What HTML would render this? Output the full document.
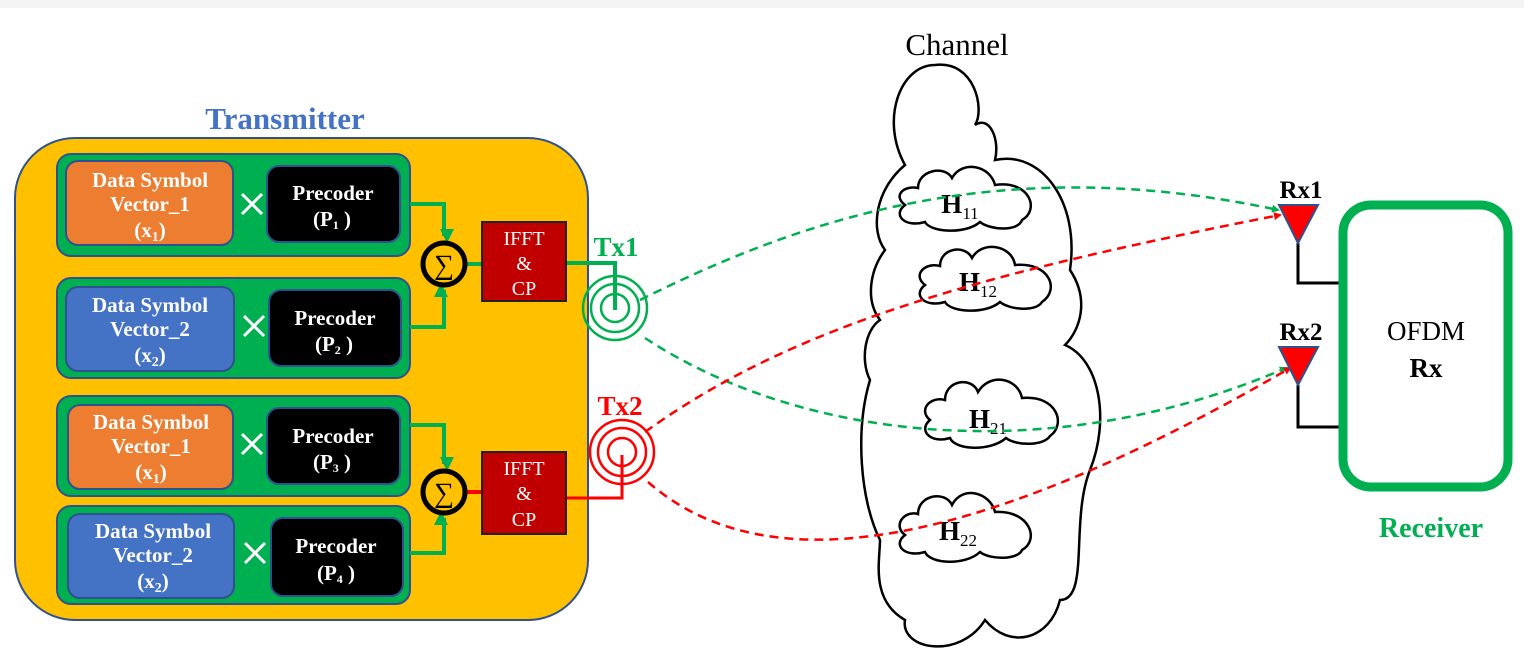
<!DOCTYPE html>
<html><head><style>
html,body{margin:0;padding:0;background:#fff;}
svg{display:block;}
text{font-family:"Liberation Serif",serif;}
</style></head><body>
<svg width="1524" height="661" viewBox="0 0 1524 661" xmlns="http://www.w3.org/2000/svg">
<defs>
<marker id="ag" markerWidth="8" markerHeight="8" refX="6" refY="4" orient="auto" markerUnits="userSpaceOnUse"><path d="M0,0 L8,4 L0,8 z" fill="#00B050"/></marker>
<marker id="ar" markerWidth="8" markerHeight="8" refX="6" refY="4" orient="auto" markerUnits="userSpaceOnUse"><path d="M0,0 L8,4 L0,8 z" fill="#FF0000"/></marker>
<marker id="gk" markerWidth="14" markerHeight="14" refX="7" refY="10" orient="auto" markerUnits="userSpaceOnUse"><path d="M0,0 L14,7 L0,14 z" fill="#00B050"/></marker>
</defs>
<rect x="0" y="0" width="1524" height="8" fill="#f4f4f4"/>
<text x="285" y="129" font-size="31" font-weight="bold" fill="#4472C4" text-anchor="middle">Transmitter</text>
<rect x="15" y="138" width="573" height="482" rx="60" fill="#FFC000" stroke="#2F528F" stroke-width="2"/>

<g stroke="#2F528F" stroke-width="2">
<rect x="57" y="154" width="353" height="102" rx="14" fill="#00B050"/>
<rect x="57" y="278" width="353" height="100" rx="14" fill="#00B050"/>
<rect x="57" y="396" width="353" height="100" rx="14" fill="#00B050"/>
<rect x="57" y="506" width="353" height="98" rx="14" fill="#00B050"/>
<rect x="66" y="161" width="167" height="84" rx="12" fill="#ED7D31"/>
<rect x="66" y="287" width="168" height="84" rx="12" fill="#4472C4"/>
<rect x="68" y="405" width="165" height="84" rx="12" fill="#ED7D31"/>
<rect x="68" y="514" width="166" height="84" rx="12" fill="#4472C4"/>
<rect x="267" y="166" width="133" height="76" rx="12" fill="#000"/>
<rect x="269" y="290" width="132" height="76" rx="12" fill="#000"/>
<rect x="267" y="408" width="133" height="76" rx="12" fill="#000"/>
<rect x="271" y="518" width="132" height="78" rx="12" fill="#000"/>
</g>
<g fill="#fff" font-weight="bold" font-size="21" text-anchor="middle">
<text x="150" y="187">Data Symbol</text><text x="150" y="211">Vector_1</text><text x="150" y="237">(x<tspan font-size="14" dy="4">1</tspan><tspan dy="-4">)</tspan></text>
<text x="150" y="312">Data Symbol</text><text x="150" y="336">Vector_2</text><text x="150" y="362">(x<tspan font-size="14" dy="4">2</tspan><tspan dy="-4">)</tspan></text>
<text x="151" y="429">Data Symbol</text><text x="151" y="453">Vector_1</text><text x="151" y="479">(x<tspan font-size="14" dy="4">1</tspan><tspan dy="-4">)</tspan></text>
<text x="153" y="538">Data Symbol</text><text x="153" y="562">Vector_2</text><text x="153" y="588">(x<tspan font-size="14" dy="4">2</tspan><tspan dy="-4">)</tspan></text>
<text x="333" y="200">Precoder</text><text x="332" y="226">(P<tspan font-size="12" dy="3">1</tspan><tspan dy="-3"> )</tspan></text>
<text x="335" y="325">Precoder</text><text x="334" y="351">(P<tspan font-size="12" dy="3">2</tspan><tspan dy="-3"> )</tspan></text>
<text x="333" y="443">Precoder</text><text x="332" y="469">(P<tspan font-size="12" dy="3">3</tspan><tspan dy="-3"> )</tspan></text>
<text x="336" y="553">Precoder</text><text x="336" y="580">(P<tspan font-size="12" dy="3">4</tspan><tspan dy="-3"> )</tspan></text>
</g>
<g stroke="#fff" stroke-width="3">
<path d="M242,194 L262,214 M262,194 L242,214"/>
<path d="M244,316 L264,336 M264,316 L244,336"/>
<path d="M242,434 L262,454 M262,434 L242,454"/>
<path d="M245,543 L265,563 M265,543 L245,563"/>
</g>
<g stroke="#00B050" stroke-width="4" fill="none">
<path d="M410,204 L444,204 L444,236" marker-end="url(#gk)"/>
<path d="M410,327 L444,327 L444,290" marker-end="url(#gk)"/>
<path d="M410,425 L444,425 L444,464" marker-end="url(#gk)"/>
<path d="M410,553 L444,553 L444,518" marker-end="url(#gk)"/>
<path d="M465,264 L482,264"/>
<path d="M566,263 L615,263 L615,310"/>
</g>
<path d="M465,492 L482,492" stroke="#FF0000" stroke-width="4"/>
<path d="M566,498 L622,498 L622,455" stroke="#FF0000" stroke-width="3" fill="none"/>
<circle cx="444" cy="264" r="21" fill="#FFC000" stroke="#000" stroke-width="5"/>
<circle cx="444" cy="492" r="21" fill="#FFC000" stroke="#000" stroke-width="5"/>
<text x="444" y="274" font-size="28" text-anchor="middle">∑</text>
<text x="444" y="502" font-size="28" text-anchor="middle">∑</text>
<rect x="482" y="222" width="84" height="79" fill="#C00000" stroke="#222" stroke-width="2"/>
<rect x="482" y="452" width="84" height="82" fill="#C00000" stroke="#222" stroke-width="2"/>
<g fill="#fff" font-size="20" text-anchor="middle">
<text x="524" y="245">IFFT</text><text x="524" y="270">&amp;</text><text x="524" y="295">CP</text>
<text x="524" y="475">IFFT</text><text x="524" y="500">&amp;</text><text x="524" y="526">CP</text>
</g>
<text x="616" y="256" font-size="27" font-weight="bold" fill="#00B050" text-anchor="middle">Tx1</text>
<g stroke="#00B050" stroke-width="2.5" fill="none"><circle cx="615" cy="308" r="14"/><circle cx="615" cy="308" r="24"/><circle cx="615" cy="308" r="32"/></g>
<text x="620" y="415" font-size="27" font-weight="bold" fill="#FF0000" text-anchor="middle">Tx2</text>
<g stroke="#FF0000" stroke-width="2.5" fill="none"><circle cx="622" cy="452" r="14"/><circle cx="622" cy="452" r="24"/><circle cx="622" cy="452" r="32"/></g>

<text x="957" y="55" font-size="31" text-anchor="middle">Channel</text>
<path d="M905,165 C880,120 900,65 935,65 C975,60 985,110 975,125 C990,115 1000,140 995,160 C1040,150 1080,200 1070,270 C1090,300 1080,330 1065,345 C1100,360 1110,420 1090,470 C1070,520 1090,600 1060,600 C1050,640 1010,650 985,620 C960,660 900,650 905,620 C870,600 880,560 880,540 C860,500 855,430 870,380 C860,360 865,330 880,320 C865,300 870,270 885,250 C870,230 875,190 905,165 Z" fill="#fff" stroke="#000" stroke-width="2.5"/>
<g fill="#fff" stroke="#000" stroke-width="2.5">
<path d="M905,205 C892,195 905,185 918,188 C918,170 945,165 952,178 C962,160 990,165 995,185 C1030,180 1040,210 1022,220 C1018,232 990,230 980,222 C965,235 930,232 925,222 C905,228 892,215 905,205 Z"/>
<path d="M925,285 C912,275 925,262 940,266 C940,248 965,244 972,258 C982,240 1012,245 1015,265 C1050,262 1060,290 1042,302 C1036,312 1010,310 1000,302 C985,315 950,312 945,302 C925,308 912,295 925,285 Z"/>
<path d="M930,420 C918,410 930,396 945,400 C945,380 972,376 978,392 C990,372 1018,378 1022,398 C1058,395 1066,425 1050,436 C1044,446 1016,446 1006,438 C990,452 955,450 950,438 C930,444 918,430 930,420 Z"/>
<path d="M905,535 C892,525 905,510 918,514 C918,495 945,490 952,505 C962,485 990,492 995,512 C1030,510 1040,540 1022,550 C1018,560 990,560 980,552 C965,566 930,564 925,552 C905,558 892,545 905,535 Z"/>
</g>
<g font-size="27" font-weight="bold" text-anchor="middle">
<text x="960" y="213">H<tspan font-size="17" font-weight="normal" dy="6">11</tspan></text>
<text x="978" y="291">H<tspan font-size="17" font-weight="normal" dy="6">12</tspan></text>
<text x="988" y="428">H<tspan font-size="17" font-weight="normal" dy="6">21</tspan></text>
<text x="958" y="540">H<tspan font-size="17" font-weight="normal" dy="6">22</tspan></text>
</g>

<g fill="none" stroke-width="2.5" stroke-dasharray="9,6">
<path d="M640,300 C800,220 1000,150 1278,210" stroke="#00B050" marker-end="url(#ag)"/>
<path d="M645,338 C800,440 1050,470 1286,368" stroke="#00B050" marker-end="url(#ag)"/>
<path d="M645,432 C800,320 1000,270 1280,215" stroke="#FF0000" marker-end="url(#ar)"/>
<path d="M648,482 C760,580 960,560 1290,368" stroke="#FF0000" marker-end="url(#ar)"/>
</g>

<path d="M1298,243 L1298,283 L1342,283 M1298,385 L1298,427 L1342,427" stroke="#000" stroke-width="3" fill="none"/>
<path d="M1279,205 L1318,205 L1298,243 Z" fill="#FF0000" stroke="#2F528F" stroke-width="2"/>
<path d="M1279,347 L1318,347 L1298,385 Z" fill="#FF0000" stroke="#2F528F" stroke-width="2"/>
<text x="1301" y="198" font-size="25" font-weight="bold" text-anchor="middle">Rx1</text>
<text x="1301" y="340" font-size="25" font-weight="bold" text-anchor="middle">Rx2</text>
<rect x="1343" y="205" width="165" height="282" rx="28" fill="#fff" stroke="#00B050" stroke-width="9"/>
<text x="1426" y="340" font-size="27" text-anchor="middle">OFDM</text>
<text x="1426" y="377" font-size="27" font-weight="bold" text-anchor="middle">Rx</text>
<text x="1431" y="537" font-size="28" font-weight="bold" fill="#00B050" text-anchor="middle">Receiver</text>
</svg>
</body></html>
